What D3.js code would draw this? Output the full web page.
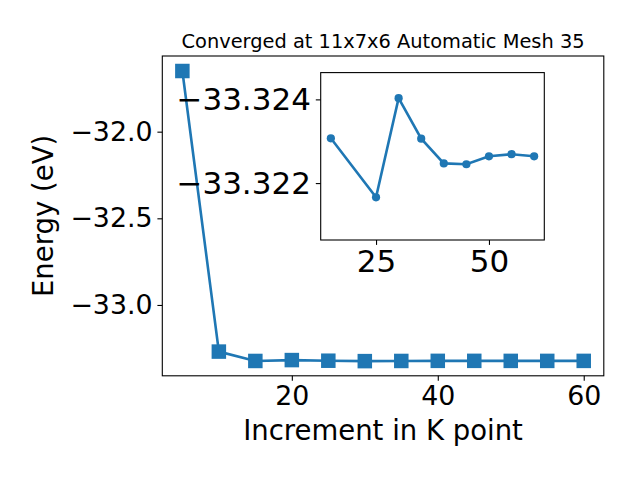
<!DOCTYPE html>
<html><head><meta charset="utf-8">
<script src="https://cdn.jsdelivr.net/npm/d3@7"></script>
<style>
body{margin:0;background:#fff}
svg{display:block}
text{font-family:"DejaVu Sans",sans-serif;fill:#000}
</style>
</head><body>
<svg id="c" width="640" height="480"></svg>
<script>
// ---- data ----
const kPoints = [5, 10, 15, 20, 25, 30, 35, 40, 45, 50, 55, 60];
const energies = [-31.65, -33.269, -33.32307, -33.318, -33.32166, -33.32403, -33.32306, -33.32247, -33.32245, -33.32264, -33.32269, -33.32264];
const insetK = [15, 25, 30, 35, 40, 45, 50, 55, 60];
const insetE = [-33.32307, -33.32166, -33.32403, -33.32306, -33.32247, -33.32245, -33.32264, -33.32269, -33.32264];
const mainXTicks = [20, 40, 60];
const mainYTicks = [-33.0, -32.5, -32.0];
const insetXTicks = [25, 50];
const insetYTicks = [-33.324, -33.322];
const titleText = "Converged at 11x7x6 Automatic Mesh 35";
const xLabel = "Increment in K point";
const yLabel = "Energy (eV)";

const color = "#1f77b4";
const svg = d3.select("#c");
const FT_MAIN = 26.8, FT_INSET = 31, FT_LABEL = 27.5, FT_TITLE = 19.4;

// ---- main axes ----
const M = {l: 162.3, r: 603.8, t: 56, b: 375.8};
const x = d3.scaleLinear().domain([2.25, 62.75]).range([M.l, M.r]);
const y = d3.scaleLinear().domain([-33.4087, -31.5634]).range([M.b, M.t]);

function styleAxis(g, fs) {
  g.select(".domain").remove();
  g.selectAll(".tick line").attr("stroke", "#000").attr("stroke-width", 1.1);
  g.selectAll(".tick text").attr("font-size", fs).attr("font-family", "DejaVu Sans").attr("fill", "#000");
}

const gx = svg.append("g").attr("transform", `translate(0,${M.b})`)
  .call(d3.axisBottom(x).tickValues(mainXTicks).tickFormat(d3.format("d")).tickSizeOuter(0).tickSize(4.9).tickPadding(4.9));
const gy = svg.append("g").attr("transform", `translate(${M.l},0)`)
  .call(d3.axisLeft(y).tickValues(mainYTicks).tickFormat(d3.format(".1f")).tickSizeOuter(0).tickSize(4.9).tickPadding(4.9));
styleAxis(gx, FT_MAIN);
styleAxis(gy, FT_MAIN);

svg.append("rect").attr("x", M.l).attr("y", M.t).attr("width", M.r - M.l).attr("height", M.b - M.t)
  .attr("fill", "none").attr("stroke", "#000").attr("stroke-width", 1.1);

const line = d3.line().x((d, i) => x(kPoints[i])).y(d => y(d));
svg.append("path").datum(energies).attr("d", line).attr("fill", "none").attr("stroke", color).attr("stroke-width", 2.6);
const sq = 14.5;
svg.selectAll("rect.m").data(energies).enter().append("rect").attr("class", "m")
  .attr("x", (d, i) => x(kPoints[i]) - sq / 2).attr("y", d => y(d) - sq / 2)
  .attr("width", sq).attr("height", sq).attr("fill", color);

svg.append("text").attr("x", (M.l + M.r) / 2).attr("y", 48.3).attr("text-anchor", "middle")
  .attr("font-size", FT_TITLE).text(titleText);
svg.append("text").attr("x", (M.l + M.r) / 2).attr("y", 440).attr("text-anchor", "middle")
  .attr("font-size", FT_LABEL).text(xLabel);
svg.append("text").attr("transform", `translate(52.7,${(M.t + M.b) / 2}) rotate(-90)`).attr("text-anchor", "middle")
  .attr("font-size", FT_LABEL).text(yLabel);

// ---- inset axes ----
const I = {l: 320.7, r: 544.3, t: 72.6, b: 240};
const xi = d3.scaleLinear().domain([12.75, 62.25]).range([I.l, I.r]);
const yi = d3.scaleLinear().domain([-33.32464, -33.32064]).range([I.t, I.b]);

svg.append("rect").attr("x", I.l).attr("y", I.t).attr("width", I.r - I.l).attr("height", I.b - I.t)
  .attr("fill", "#fff").attr("stroke", "none");

const gxi = svg.append("g").attr("transform", `translate(0,${I.b})`)
  .call(d3.axisBottom(xi).tickValues(insetXTicks).tickFormat(d3.format("d")).tickSizeOuter(0).tickSize(4.9).tickPadding(4.9));
const gyi = svg.append("g").attr("transform", `translate(${I.l},0)`)
  .call(d3.axisLeft(yi).tickValues(insetYTicks).tickFormat(d3.format(".3f")).tickSizeOuter(0).tickSize(4.9).tickPadding(4.9));
styleAxis(gxi, FT_INSET);
styleAxis(gyi, FT_INSET);

const linei = d3.line().x((d, i) => xi(insetK[i])).y(d => yi(d));
svg.append("path").datum(insetE).attr("d", linei).attr("fill", "none").attr("stroke", color).attr("stroke-width", 2.6);
svg.selectAll("circle.m").data(insetE).enter().append("circle").attr("class", "m")
  .attr("cx", (d, i) => xi(insetK[i])).attr("cy", d => yi(d)).attr("r", 4.1).attr("fill", color);

svg.append("rect").attr("x", I.l).attr("y", I.t).attr("width", I.r - I.l).attr("height", I.b - I.t)
  .attr("fill", "none").attr("stroke", "#000").attr("stroke-width", 1.1);
</script>
</body></html>
